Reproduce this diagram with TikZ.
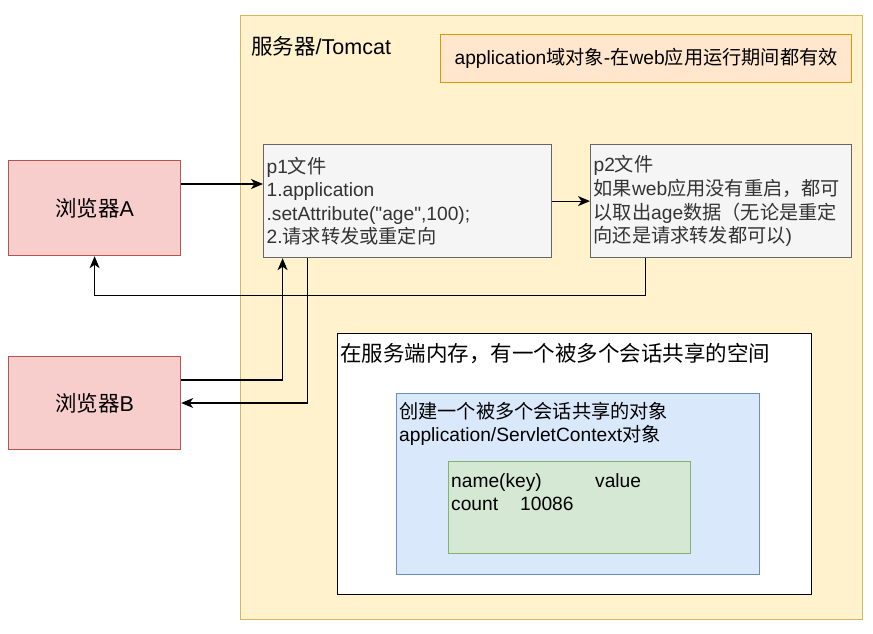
\documentclass[tikz,border=0pt]{standalone}
\usepackage{fontspec}
\setmainfont{Liberation Sans}[Ligatures=TeXOff]
\newfontfamily\cjk{Noto Sans CJK SC}
\newcommand\zh[1]{{\cjk #1}}
\usetikzlibrary{arrows.meta}
\definecolor{tomfill}{HTML}{FFF2CC}\definecolor{tomline}{HTML}{D6B656}
\definecolor{appfill}{HTML}{FFE6CC}\definecolor{appline}{HTML}{D79B00}
\definecolor{redfill}{HTML}{F8CECC}\definecolor{redline}{HTML}{B85450}
\definecolor{grayfill}{HTML}{F5F5F5}\definecolor{grayline}{HTML}{666666}
\definecolor{grtext}{HTML}{333333}
\definecolor{bluefill}{HTML}{DAE8FC}\definecolor{blueline}{HTML}{6C8EBF}
\definecolor{grnfill}{HTML}{D5E8D4}\definecolor{grnline}{HTML}{82B366}
\tikzset{
  base/.style={draw, line width=1.2pt, inner sep=0pt, anchor=north west, font=\fontsize{19.2}{23.6}\selectfont},
  big/.style={font=\fontsize{21.5}{26}\selectfont},
  norm/.style={font=\fontsize{19.2}{23.6}\selectfont},
  tombox/.style={base, fill=tomfill, draw=tomline},
  appbox/.style={base, fill=appfill, draw=appline},
  redbox/.style={base, fill=redfill, draw=redline, big},
  graybox/.style={base, fill=grayfill, draw=grayline, text=grtext, align=left, inner xsep=3pt},
  membox/.style={base, fill=white, draw=black},
  bluebox/.style={base, fill=bluefill, draw=blueline},
  grnbox/.style={base, fill=grnfill, draw=grnline},
  txt/.style={anchor=west, inner sep=0pt, align=left},
  conn/.style={line width=1.2pt, -{Stealth[length=12pt,width=10pt,inset=3.5pt]}},
}
\begin{document}
\begin{tikzpicture}[x=1pt,y=-1pt]
\useasboundingbox (0,0) rectangle (873,633);
\node[tombox, minimum width=622pt, minimum height=604pt] (tomcat) at (240,15) {};
\node[txt, big] (ttl) at (251,46) {\zh{服务器}/Tomcat};
\node[appbox, minimum width=411pt, minimum height=48pt] (app) at (440,34) {application\zh{域对象}-\zh{在}web\zh{应用运行期间都有效}};
\node[redbox, minimum width=172pt, minimum height=95pt] (A) at (8,160) {\zh{浏览器}A};
\node[redbox, minimum width=172pt, minimum height=93pt] (B) at (8,356) {\zh{浏览器}B};
\node[graybox, minimum width=288pt, minimum height=113pt, text width=282pt] (p1) at (263,144)
  {p1\zh{文件}\\1.application\\.setAttribute("age",100);\\2.\zh{请求转发或重定向}};
\node[graybox, minimum width=261pt, minimum height=113pt, text width=255pt] (p2) at (590,144)
  {p2\zh{文件}\\\zh{如果}web\zh{应用没有重启，都可}\\\zh{以取出}age\zh{数据（无论是重定}\\\zh{向还是请求转发都可以})};
\draw[conn] ([yshift=-24pt]A.north east) -- ([yshift=-24pt]A.north east -| p1.west);
\draw[conn] (p1.east) -- (p1.east -| p2.west);
\draw[conn] ([xshift=-75.5pt]p2.south) -- ++(0,37) -| (A.south);
\draw[conn] ([yshift=-24pt]B.north east) -| ([xshift=-125pt]p1.south);
\draw[conn] ([xshift=-100pt]p1.south) |- ([yshift=-47pt]B.north east);
\node[membox, minimum width=474pt, minimum height=261pt] (mem) at (337,333) {};
\node[txt, big] (memt) at (340,354) {\zh{在服务端内存，有一个被多个会话共享的空间}};
\node[bluebox, minimum width=363pt, minimum height=181pt] (obj) at (396,393) {};
\node[txt, norm] (objt) at (399,424) {\zh{创建一个被多个会话共享的对象}\\application/ServletContext\zh{对象}};
\node[grnbox, minimum width=242pt, minimum height=92pt] (kv) at (448,461) {};
\node[txt, norm] (kvt) at (451,492) {\makebox[144pt][l]{name(key)}value\\\makebox[69pt][l]{count}10086};
\end{tikzpicture}
\end{document}
